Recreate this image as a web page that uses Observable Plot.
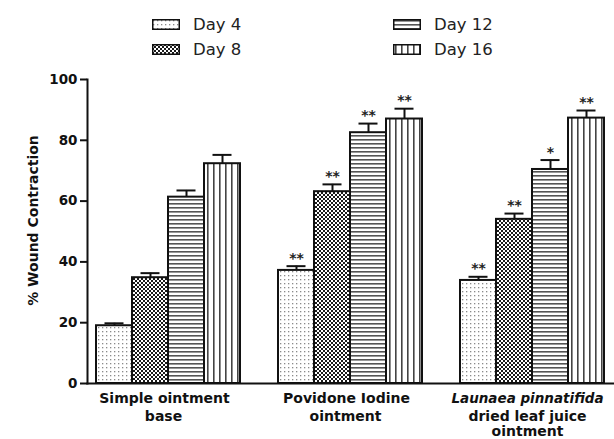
<!DOCTYPE html>
<html>
<head>
<meta charset="utf-8">
<script src="https://cdn.jsdelivr.net/npm/d3@7"></script>
<script src="https://cdn.jsdelivr.net/npm/@observablehq/plot@0.6"></script>
<style>
  body { margin: 0; background: #fff; font-family: "DejaVu Sans", sans-serif; }
  #legend { height: 62px; box-sizing: border-box; padding: 14px 0 0 152px; display: grid;
    grid-template-columns: 241px 200px; grid-template-rows: 20px 20px; grid-auto-flow: column; row-gap: 5px; }
  .item { display: flex; align-items: center; gap: 13px; font-size: 16.5px; color: #222; }
  .item svg { display: block; }
</style>
</head>
<body>
<svg width="0" height="0" style="position:absolute">
  <defs>
    <pattern id="pat-day4" width="4" height="4" patternUnits="userSpaceOnUse">
      <rect width="4" height="4" fill="#fff"/>
      <rect x="1" y="1" width="1.3" height="1.3" fill="#8a8a8a"/>
    </pattern>
    <pattern id="pat-day8" width="4" height="4" patternUnits="userSpaceOnUse">
      <rect width="4" height="4" fill="#fff"/>
      <rect width="2" height="2" fill="#1a1a1a"/>
      <rect x="2" y="2" width="2" height="2" fill="#1a1a1a"/>
    </pattern>
    <pattern id="pat-day12" width="4" height="4" patternUnits="userSpaceOnUse">
      <rect width="4" height="4" fill="#fff"/>
      <rect y="1" width="4" height="1.6" fill="#555"/>
    </pattern>
    <pattern id="pat-day16" width="6" height="6" patternUnits="userSpaceOnUse">
      <rect width="6" height="6" fill="#fff"/>
      <rect x="2" width="1.6" height="6" fill="#444"/>
    </pattern>
  </defs>
</svg>
<div id="legend"></div>
<div id="chart"></div>
<script>
// ---- data ----
const groups = ["Simple ointment base", "Povidone Iodine ointment", "Launaea pinnatifida dried leaf juice ointment"];
const days = ["Day 4", "Day 8", "Day 12", "Day 16"];
const simpleBase = [19.0, 34.8, 61.3, 72.3];
const simpleBaseErr = [0.8, 1.5, 2.2, 2.9];
const simpleBaseSig = ["", "", "", ""];
const povidone = [37.2, 63.1, 82.5, 87.0];
const povidoneErr = [1.4, 2.4, 3.0, 3.4];
const povidoneSig = ["**", "**", "**", "**"];
const launaea = [33.9, 54.0, 70.4, 87.3];
const launaeaErr = [1.2, 1.9, 3.1, 2.5];
const launaeaSig = ["**", "**", "*", "**"];
const yTicks = [0, 20, 40, 60, 80, 100];
const yLabel = "% Wound Contraction";
const labelLine1 = ["Simple ointment", "Povidone Iodine", "Launaea pinnatifida"];
const labelItalic = [false, false, true];
const labelRest = ["base", "ointment", "dried leaf juice\nointment"];
const patterns = ["url(#pat-day4)", "url(#pat-day8)", "url(#pat-day12)", "url(#pat-day16)"];

const values = [simpleBase, povidone, launaea];
const errs = [simpleBaseErr, povidoneErr, launaeaErr];
const sigs = [simpleBaseSig, povidoneSig, launaeaSig];

const data = [];
groups.forEach((g, gi) => days.forEach((d, di) => data.push({
  group: g, day: d, value: values[gi][di], err: errs[gi][di], sig: sigs[gi][di]
})));
const labels = groups.map((g, i) => ({group: g, line1: labelLine1[i], italic: labelItalic[i], rest: labelRest[i]}));

// ---- legend ----
const legend = document.getElementById("legend");
days.forEach((d, i) => {
  const item = document.createElement("div");
  item.className = "item";
  item.innerHTML = `<svg width="28" height="11"><rect x="0.75" y="0.75" width="26.5" height="9.5" fill="${patterns[i]}" stroke="#111" stroke-width="1.5"/></svg><span>${d}</span>`;
  legend.appendChild(item);
});

// ---- chart ----
const errTop = d => d.value + d.err;
const chart = Plot.plot({
  width: 614,
  height: 377,
  marginLeft: 86,
  marginRight: 0,
  marginTop: 17,
  marginBottom: 56,
  style: {fontFamily: "'DejaVu Sans', sans-serif", background: "white", overflow: "visible", color: "#111"},
  fx: {domain: groups, paddingInner: 0.11, paddingOuter: 0, axis: null},
  x: {domain: days, paddingInner: 0, paddingOuter: 0.218, axis: null},
  y: {domain: [0, 100], axis: null},
  color: {domain: days, range: patterns},
  marks: [
    Plot.barY(data, {fx: "group", x: "day", y: "value", fill: "day", stroke: "#111", strokeWidth: 2}),
    Plot.ruleX(data, {fx: "group", x: "day", y1: "value", y2: errTop, stroke: "#111", strokeWidth: 2}),
    Plot.tickY(data, {fx: "group", x: "day", y: errTop, insetLeft: 8.5, insetRight: 8.5, stroke: "#111", strokeWidth: 2}),
    Plot.text(data.filter(d => d.sig), {fx: "group", x: "day", y: errTop, text: "sig", dy: -8, fontSize: 14, fontWeight: "bold", fill: "#222"}),
    Plot.axisY({ticks: yTicks, tickSize: 7, tickPadding: 3, strokeWidth: 2, fontSize: 13.5, fontWeight: "bold", label: null}),
    Plot.frame({anchor: "left", facet: "super", stroke: "#111", strokeWidth: 2}),
    Plot.frame({anchor: "bottom", facet: "super", stroke: "#111", strokeWidth: 2}),
    Plot.text([yLabel], {frameAnchor: "left", facet: "super", textAnchor: "middle", lineAnchor: "middle", rotate: -90, dx: -54, dy: -11, fontSize: 14, fontWeight: "bold", fill: "#111"}),
    Plot.text(labels.filter(d => !d.italic), {fx: "group", frameAnchor: "bottom", text: "line1", lineAnchor: "top", dy: 10, dx: -4, fontSize: 14, fontWeight: "bold", fill: "#111"}),
    Plot.text(labels.filter(d => d.italic), {fx: "group", frameAnchor: "bottom", text: "line1", lineAnchor: "top", dy: 10, dx: -5, fontSize: 13.5, fontWeight: "bold", fontStyle: "italic", fill: "#111"}),
    Plot.text(labels, {fx: "group", frameAnchor: "bottom", text: "rest", lineAnchor: "top", dy: 26, dx: -5, lineHeight: 1.12, fontSize: 14, fontWeight: "bold", fill: "#111"})
  ]
});
document.getElementById("chart").appendChild(chart);
</script>
</body>
</html>
